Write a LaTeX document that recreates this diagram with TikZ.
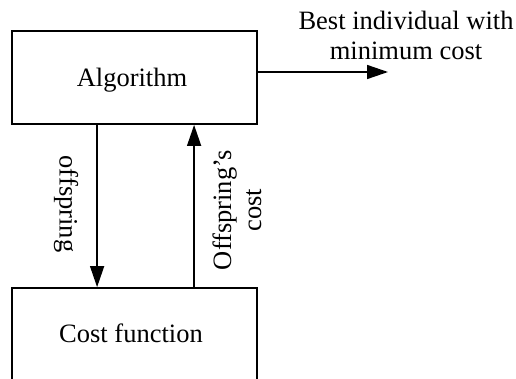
\documentclass[tikz,border=0pt]{standalone}
\usepackage{fontspec}
\setmainfont{Liberation Serif}
\usetikzlibrary{arrows.meta}
\begin{document}
\begin{tikzpicture}[x=1pt,y=-1pt,
  box/.style={draw,line width=1.8pt,minimum width=245pt,minimum height=93pt,inner sep=0pt},
  lbl/.style={font=\fontsize{26.5}{30}\selectfont,inner sep=0pt,align=center},
  arr/.style={line width=1.5pt,-{Triangle[length=21pt,width=14pt]}}]
\useasboundingbox (0,0) rectangle (516,378);
\clip (0,0) rectangle (516,378);
\node[box] (alg) at (134.5,77.5) {};
\node[lbl] (algtxt) at (132,80) {Algorithm};
\node[box] (cost) at (134.5,334.5) {};
\node[lbl] (costtxt) at (131,333) {Cost function};
\coordinate (out) at (388,72);
\draw[arr] ([yshift=5.5pt]alg.east) -- (out);
\node[lbl] (best) at (406,35) {Best individual with\\minimum cost};
\draw[arr] ([xshift=86pt]alg.south west) -- ([xshift=86pt]cost.north west);
\draw[arr] ([xshift=183pt]cost.north west) -- ([xshift=183pt]alg.south west);
\node[lbl,rotate=-90] (offs) at (66,204) {offspring};
\node[lbl,rotate=90] (offc) at (237,210) {Offspring’s\\cost};
\end{tikzpicture}
\end{document}
